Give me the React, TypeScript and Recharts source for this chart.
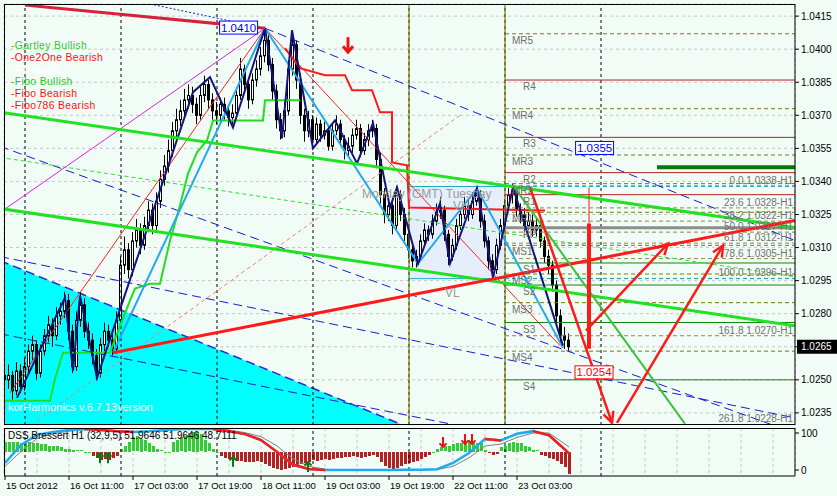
import React from 'react';
import {
  ComposedChart, Bar, Line, Area, Scatter, XAxis, YAxis, CartesianGrid,
  ReferenceLine, ReferenceArea, ReferenceDot, Cell,
} from 'recharts';

const FONT = '"Liberation Sans", Arial, sans-serif';
const BG = '#f2fcf6';
const X_DOMAIN: [number, number] = [-0.25, 197.5];
const PRICE_DOMAIN: [number, number] = [1.02295, 1.04205];
const DSS_DOMAIN: [number, number] = [-16.2, 113.5];

// H1 bars, first bar 15 Oct 2012 19:00
const firstOpen = 1.0252;
const closes = [
  1.0250, 1.0252, 1.0245, 1.0254, 1.0247, 1.0256, 1.0263, 1.0266, 1.0253, 1.0263,
  1.0270, 1.0275, 1.0270, 1.0279, 1.0281, 1.0286, 1.0272, 1.0256, 1.0277, 1.0284,
  1.0272, 1.0268, 1.0261, 1.0253, 1.0266, 1.0272, 1.0268, 1.0264, 1.0277, 1.0302,
  1.0309, 1.0300, 1.0313, 1.0318, 1.0311, 1.0320, 1.0327, 1.0320, 1.0331, 1.0341,
  1.0347, 1.0354, 1.0363, 1.0368, 1.0372, 1.0377, 1.0379, 1.0375, 1.0370, 1.0379,
  1.0384, 1.0377, 1.0372, 1.0370, 1.0375, 1.0372, 1.0369, 1.0371, 1.0379, 1.0391,
  1.0384, 1.0377, 1.0386, 1.0391, 1.0397, 1.0404, 1.0393, 1.0381, 1.0368, 1.0363,
  1.0372, 1.0391, 1.0402, 1.0386, 1.0370, 1.0363, 1.0368, 1.0359, 1.0366, 1.0361,
  1.0363, 1.0356, 1.0363, 1.0366, 1.0359, 1.0354, 1.0356, 1.0361, 1.0364, 1.0354,
  1.0359, 1.0363, 1.0364, 1.0350, 1.0334, 1.0325, 1.0329, 1.0320, 1.0334, 1.0325,
  1.0316, 1.0309, 1.0304, 1.0306, 1.0313, 1.0318, 1.0316, 1.0322, 1.0326, 1.0327,
  1.0316, 1.0306, 1.0311, 1.0320, 1.0325, 1.0329, 1.0325, 1.0331, 1.0334, 1.0322,
  1.0313, 1.0304, 1.0300, 1.0311, 1.0320, 1.0329, 1.0334, 1.0336, 1.0327, 1.0325,
  1.0320, 1.0322, 1.0318, 1.0320, 1.0313, 1.0306, 1.0302, 1.0293, 1.0279, 1.0270,
  1.0268, 1.0265,
];
const highs = [
  1.0256, 1.0257, 1.0254, 1.0258, 1.0257, 1.0260, 1.0266, 1.0270, 1.0268, 1.0266,
  1.0273, 1.0279, 1.0278, 1.0283, 1.0285, 1.0290, 1.0289, 1.0275, 1.0281, 1.0290,
  1.0287, 1.0276, 1.0271, 1.0264, 1.0269, 1.0276, 1.0275, 1.0271, 1.0281, 1.0306,
  1.0315, 1.0312, 1.0317, 1.0323, 1.0321, 1.0324, 1.0331, 1.0330, 1.0335, 1.0345,
  1.0352, 1.0359, 1.0367, 1.0373, 1.0377, 1.0382, 1.0384, 1.0383, 1.0378, 1.0383,
  1.0388, 1.0386, 1.0380, 1.0376, 1.0378, 1.0378, 1.0375, 1.0375, 1.0382, 1.0396,
  1.0393, 1.0386, 1.0389, 1.0395, 1.0401, 1.0410, 1.0407, 1.0396, 1.0384, 1.0371,
  1.0376, 1.0395, 1.0408, 1.0404, 1.0389, 1.0373, 1.0372, 1.0370, 1.0369, 1.0368,
  1.0367, 1.0365, 1.0366, 1.0370, 1.0368, 1.0361, 1.0360, 1.0364, 1.0368, 1.0366,
  1.0362, 1.0366, 1.0368, 1.0366, 1.0353, 1.0337, 1.0333, 1.0331, 1.0338, 1.0336,
  1.0328, 1.0318, 1.0311, 1.0309, 1.0316, 1.0321, 1.0320, 1.0325, 1.0330, 1.0333,
  1.0329, 1.0318, 1.0314, 1.0323, 1.0328, 1.0333, 1.0332, 1.0335, 1.0338, 1.0336,
  1.0325, 1.0315, 1.0307, 1.0314, 1.0323, 1.0332, 1.0337, 1.0339, 1.0338, 1.0330,
  1.0328, 1.0326, 1.0325, 1.0323, 1.0322, 1.0315, 1.0309, 1.0304, 1.0295, 1.0282,
  1.0274, 1.0271,
];
const lows = [
  1.0244, 1.0246, 1.0241, 1.0243, 1.0244, 1.0245, 1.0253, 1.0259, 1.0250, 1.0251,
  1.0261, 1.0267, 1.0265, 1.0268, 1.0275, 1.0278, 1.0268, 1.0253, 1.0254, 1.0274,
  1.0269, 1.0264, 1.0257, 1.0250, 1.0251, 1.0263, 1.0265, 1.0261, 1.0262, 1.0275,
  1.0298, 1.0296, 1.0297, 1.0310, 1.0307, 1.0309, 1.0317, 1.0316, 1.0318, 1.0328,
  1.0338, 1.0344, 1.0351, 1.0360, 1.0365, 1.0369, 1.0373, 1.0371, 1.0366, 1.0368,
  1.0376, 1.0373, 1.0368, 1.0366, 1.0367, 1.0368, 1.0365, 1.0366, 1.0369, 1.0377,
  1.0380, 1.0373, 1.0375, 1.0383, 1.0388, 1.0394, 1.0390, 1.0377, 1.0364, 1.0359,
  1.0360, 1.0370, 1.0388, 1.0382, 1.0366, 1.0358, 1.0360, 1.0356, 1.0357, 1.0358,
  1.0359, 1.0354, 1.0354, 1.0361, 1.0356, 1.0350, 1.0351, 1.0353, 1.0359, 1.0351,
  1.0352, 1.0356, 1.0360, 1.0346, 1.0330, 1.0321, 1.0322, 1.0316, 1.0318, 1.0322,
  1.0313, 1.0305, 1.0301, 1.0301, 1.0304, 1.0311, 1.0313, 1.0314, 1.0320, 1.0323,
  1.0313, 1.0302, 1.0304, 1.0309, 1.0318, 1.0323, 1.0322, 1.0323, 1.0329, 1.0319,
  1.0310, 1.0300, 1.0296, 1.0298, 1.0309, 1.0318, 1.0327, 1.0330, 1.0324, 1.0321,
  1.0317, 1.0318, 1.0315, 1.0315, 1.0310, 1.0303, 1.0298, 1.0290, 1.0276, 1.0267,
  1.0264, 1.0263,
];

const priceTicks = [1.0235, 1.025, 1.0265, 1.028, 1.0295, 1.031, 1.0325, 1.034, 1.0355, 1.037, 1.0385, 1.04, 1.0415];
const currentPrice = 1.0265;
const gridBars = [0, 8, 16, 24, 32, 40, 48, 56, 64, 72, 80, 88, 96, 104, 112, 120, 128, 136, 144, 152, 160, 168, 176, 184, 192];
const dateBars = [0, 16, 32, 48, 64, 80, 96, 112, 128];
const dateLabels = ['15 Oct 2012', '16 Oct 11:00', '17 Oct 03:00', '17 Oct 19:00', '18 Oct 11:00', '19 Oct 03:00', '19 Oct 19:00', '22 Oct 11:00', '23 Oct 03:00'];
const daySeparators = [5, 29, 53, 77, 101, 125, 149];
const sessionStarts = [101, 125];

// pivots (drawn from Tuesday start)
const pivotNames = ['MR5', 'R4', 'MR4', 'R3', 'MR3', 'R2', 'MR2', 'R1', 'MR1', 'PP', 'MS1', 'S1', 'MS2', 'S2', 'MS3', 'S3', 'MS4', 'S4'];
const pivotLevels = [1.0407, 1.0386, 1.0373, 1.036, 1.0352, 1.0344, 1.0339, 1.0334, 1.0326, 1.0319, 1.0311, 1.0303, 1.0298, 1.0293, 1.0285, 1.0276, 1.0263, 1.025];
const fibPct = ['0.0', '23.6', '38.2', '50.0', '61.8', '78.6', '100.0', '161.8', '261.8'];
const fibLevels = [1.0338, 1.0328, 1.0322, 1.0317, 1.0312, 1.0305, 1.0296, 1.027, 1.0228];

const legendNames = ['-Gartley Bullish', '-One2One Bearish', '-FTriangle', '-Fibo Bullish', '-Fibo Bearish', '-Fibo786 Bearish'];
const legendColors = ['#2ec82e', '#ff1010', '#ffffff', '#2ec82e', '#ff1010', '#ff1010'];

// drawn objects: [bar, price]
const upperChannel = [[-1.25, 1.03714], [197.5, 1.03191]];
const lowerChannel = [[-1.25, 1.03277], [197.5, 1.02745]];
const redTrend = [[27, 1.02623], [197.5, 1.03223]];
const topRed = [[5, 1.042], [65, 1.04095]];
const magentaLine = [[-1.25, 1.03259], [65, 1.04095]];
const thinRedUp = [[1.25, 1.02441], [65, 1.04095]];
const thinRedDown = [[65, 1.04095], [138.75, 1.02655]];
const limeDashed = [[-1.25, 1.03509], [197.5, 1.02968]];
const blueDash1 = [[65, 1.04095], [197.5, 1.03132]];
const blueDash2 = [[-1.25, 1.03559], [192.5, 1.02291]];
const blueDash3 = [[-1.25, 1.03059], [197.5, 1.02327]];
const blueDash4 = [[-1.25, 1.02709], [113.75, 1.02291]];
const blueDotTop = [[36.25, 1.04205], [65, 1.04095]];
const salmonDash = [[8, 1.02314], [113.75, 1.037]];
const gartleyGreen = [[127, 1.03382], [170, 1.023]];
const arrowA = [[131.25, 1.03373], [151.75, 1.02305]];
const arrowB = [[153, 1.02305], [179.5, 1.03109]];
const arrowC = [[145.25, 1.02723], [165.75, 1.03118]];
const redPostThick = [[146, 1.03209], [146, 1.02641]];
const redPostThin = [[146, 1.03373], [146, 1.03209]];
const darkGreenBar = [[163, 1.03464], [197.5, 1.03464]];
const cyanWedge = [[-1.25, 1.03041], [100, 1.02291]];
const sessionBox = [[101, 1.02959], [125, 1.03377]];

const navyZigzag = [
  [3, 1.02418], [15, 1.02873], [17, 1.02541], [18.75, 1.02882], [23, 1.02509],
  [47, 1.03805], [51.25, 1.03873], [57, 1.03645], [65, 1.04095], [69.25, 1.03595],
  [71.75, 1.04086], [77, 1.0355], [82.5, 1.03677], [88, 1.03482], [92, 1.03664],
  [96.25, 1.03282], [98, 1.03373], [103.25, 1.03027], [108.75, 1.033], [111.25, 1.03027],
  [118, 1.03368], [122, 1.02964], [127, 1.03373], [139.5, 1.02655],
];
const cyanZigzag = [[27, 1.02623], [65, 1.04095], [103.25, 1.03027], [118, 1.03368], [139.5, 1.02645]];
const greenTrail = [
  [0, 1.02405], [11.25, 1.02405], [12.5, 1.02505], [14.5, 1.02623], [26.25, 1.02623],
  [28.75, 1.02745], [31.25, 1.02859], [32.5, 1.02914], [36.25, 1.02936], [38.75, 1.02936],
  [41.25, 1.03132], [43.75, 1.03291], [45.75, 1.03436], [48, 1.03532], [50.5, 1.03586],
  [52, 1.03677], [64.5, 1.03677], [65, 1.03768], [73.75, 1.03768],
];
const redTrail = [
  [70, 1.04005], [73.75, 1.03914], [80, 1.03882], [85, 1.03882], [86.75, 1.03814],
  [91.75, 1.03814], [93.75, 1.03714], [96.75, 1.03714], [96.75, 1.03486], [100.5, 1.03473],
  [101, 1.03282], [135, 1.03268],
];
const priceTags = [
  { i: 58.4, p: 1.04098, text: '1.0410', color: '#0000ff' },
  { i: 147.4, p: 1.03552, text: '1.0355', color: '#0000ff' },
  { i: 147.25, p: 1.02534, text: '1.0254', color: '#ff0000' },
];
const fractalDown = [[85.75, 1.04018]];

// DSS Bressert
const hist = [
  27, 27, 27, 27, 24, 27, 27, 24, 22, 19, 19, 16, 14, 14, 11, 8, 8, 5, 3, 3,
  0, 0, -11, -16, -22, -19, -22, -16, -11, 8, 16, 27, 38, 41, 35, 30, 24, 16, 8, 3,
  0, 0, 27, 32, 38, 43, 49, 54, 54, 46, 32, 22, 8, 0, -11, -16, -19, -22, -24, -24,
  -27, -27, -27, -24, -27, -32, -38, -43, -46, -49, -46, -43, -41, -38, -32, -30, -27, -22, -24, -22,
  -19, -22, -19, -16, -16, -14, -14, -11, -14, -16, -14, -11, -8, -14, -27, -38, -43, -46, -43, -38,
  -32, -30, -27, -24, -19, -14, -8, 0, 8, 11, 14, 16, 19, 22, 22, 24, 27, 27, 24, 22,
  5, -3, -8, -5, 11, 16, 22, 27, 24, 22, 16, 11, 5, 3, -8, -11, -16, -19, -24, -32,
  -41, -59,
];
const dssBars = [0, 4, 8, 12, 16, 20, 24, 28, 32, 36, 40, 44, 48, 52, 56, 60, 64, 68, 72, 76, 80, 84, 88, 92, 96, 100, 104, 108, 112, 116, 120, 124, 128, 132, 136, 140, 141];
const dssMain = [19, 68, 95, 103, 108, 111, 108, 105, 103, 105, 108, 111, 111, 111, 105, 97, 81, 49, 14, 3, 0, 0, 0, 0, 0, 1, 1, 2, 19, 46, 84, 80, 98, 105, 94, 55, 45];
const dssSignal = [10, 50, 85, 98, 105, 109, 109, 106, 104, 104, 106, 109, 110, 111, 108, 101, 90, 65, 30, 10, 2, 0, 0, 0, 0, 0, 1, 1, 10, 33, 65, 70, 88, 100, 100, 70, 62];
const upArrowBars = [23.75, 25.75, 57, 75.75];
const upArrowValues = [32, 32, 22, 8];
const downArrowBars = [109.5, 115, 116.75];
const downArrowValues = [76, 84, 84];

const candles = closes.map((c, i) => ({ i, o: i === 0 ? firstOpen : closes[i - 1], h: highs[i], l: lows[i], c }));
const histRows = hist.map((h, i) => ({ i, h }));
const dssRows = dssBars.map((i, k) => {
  const falling = (k < dssMain.length - 1 && dssMain[k + 1] < dssMain[k]) || (k > 0 && dssMain[k] < dssMain[k - 1]);
  return { i, main: dssMain[k], sig: dssSignal[k], down: falling ? dssMain[k] : null };
});
const upRows = upArrowBars.map((i, k) => ({ i, v: upArrowValues[k] }));
const downRows = downArrowBars.map((i, k) => ({ i, v: downArrowValues[k] }));

const rows = (pts: number[][]) => pts.map(([i, p]) => ({ i, p }));
const seg = (pts: number[][]) => pts.map(([x, y]) => ({ x, y }));

const Candle = (props: any) => {
  const { x, y, width, height, payload } = props;
  const { o, h, l, c } = payload;
  const hgt = Math.abs(height);
  const k = hgt / Math.max(h - l, 0.000001);
  const cx = Math.round(x + width / 2) - 0.5;
  const yO = y + (h - o) * k;
  const yC = y + (h - c) * k;
  const top = Math.min(yO, yC);
  const bh = Math.max(Math.abs(yO - yC), 1);
  const bull = c > o;
  return (
    <g>
      <line x1={cx} x2={cx} y1={y} y2={y + hgt} stroke="#000" strokeWidth={1} />
      <rect x={cx - 1} y={top} width={2} height={bh} fill={bull ? '#fff' : '#000'} stroke="#000" strokeWidth={1} />
    </g>
  );
};

const HistBar = (props: any) => {
  const { x, y, width, height, fill } = props;
  const left = Math.round(x + width / 2) - 1;
  const top = Math.round(Math.min(y, y + height));
  const h = Math.max(Math.round(Math.abs(height)), 1);
  return <rect x={left} y={top} width={3} height={h} fill={fill} shapeRendering="crispEdges" />;
};

const arrowShape = (color: string, width: number) => (p: any) => {
  const { x1, y1, x2, y2 } = p;
  const a = Math.atan2(y2 - y1, x2 - x1);
  const len = 12;
  const ax = x2 - len * Math.cos(a - 0.45);
  const ay = y2 - len * Math.sin(a - 0.45);
  const bx = x2 - len * Math.cos(a + 0.45);
  const by = y2 - len * Math.sin(a + 0.45);
  return (
    <g>
      <line x1={x1} y1={y1} x2={x2} y2={y2} stroke={color} strokeWidth={width} />
      <polyline points={`${ax},${ay} ${x2},${y2} ${bx},${by}`} fill="none" stroke={color} strokeWidth={width} />
    </g>
  );
};

const PriceTick = (props: any) => {
  const { x, y, payload } = props;
  const v = payload.value as number;
  const label = v.toFixed(4);
  const isCur = Math.abs(v - currentPrice) < 1e-7;
  return (
    <g>
      {isCur && <rect x={x - 4} y={y - 7} width={41} height={14} fill="#000" />}
      <text x={x} y={y} dy="0.35em" fill={isCur ? '#fff' : '#000'} fontSize={10} fontFamily={FONT}>{label}</text>
    </g>
  );
};

const DateTick = (props: any) => {
  const { x, y, payload } = props;
  const k = dateBars.indexOf(payload.value);
  if (k < 0) return <g />;
  return (
    <g>
      <line x1={x} x2={x} y1={y - 6} y2={y - 2} stroke="#000" />
      <text x={x + 1} y={y} dy="0.75em" fill="#000" fontSize={9.5} fontFamily={FONT}>{dateLabels[k]}</text>
    </g>
  );
};

const ArrowMark = (color: string, up: boolean) => (p: any) => {
  const { cx, cy } = p;
  const d = up ? -1 : 1;
  return (
    <g>
      <line x1={cx} x2={cx} y1={cy - 5 * d} y2={cy + 5 * d} stroke={color} strokeWidth={2} />
      <polyline points={`${cx - 3.5},${cy + 1.5 * d} ${cx},${cy + 5 * d} ${cx + 3.5},${cy + 1.5 * d}`} fill="none" stroke={color} strokeWidth={2} />
    </g>
  );
};

const pivotStyle = (name: string) => {
  if (name === 'PP') return { stroke: '#8c8c8c', strokeWidth: 3 };
  if (name.startsWith('M')) return { stroke: '#7a7a10', strokeWidth: 1, strokeDasharray: '4 3' };
  if (name.startsWith('R')) return { stroke: '#b22222', strokeWidth: 1 };
  return { stroke: '#0f870f', strokeWidth: 1 };
};

export default function App() {
  return (
    <div style={{ position: 'absolute', left: 0, top: 0, width: 837, height: 496, background: BG, overflow: 'hidden', fontFamily: FONT }}>
      <div style={{ position: 'absolute', left: 0, top: 0 }}>
        <ComposedChart width={837} height={425} data={candles} margin={{ top: 4, right: 0, bottom: 0, left: 4 }}>
          <CartesianGrid stroke="#c6c6c6" strokeDasharray="3 3" />
          <XAxis type="number" dataKey="i" domain={X_DOMAIN} allowDataOverflow ticks={gridBars} interval={0} height={0} tick={false} tickLine={false} axisLine={false} />
          <YAxis orientation="right" width={42} domain={PRICE_DOMAIN} allowDataOverflow ticks={priceTicks} interval={0}
            tick={<PriceTick />} tickSize={4} tickLine={{ stroke: '#000' }} axisLine={{ stroke: '#000' }} />

          <Area data={rows(cyanWedge)} dataKey="p" type="linear" baseValue={PRICE_DOMAIN[0]} fill="#00ffff" fillOpacity={1}
            stroke="#2a2ad0" strokeWidth={1.5} strokeDasharray="9 5" dot={false} isAnimationActive={false} />
          <ReferenceArea x1={sessionBox[0][0]} x2={sessionBox[1][0]} y1={sessionBox[0][1]} y2={sessionBox[1][1]}
            fill="#e6eefc" fillOpacity={1} stroke="none" ifOverflow="hidden" />

          {daySeparators.map((d) => (
            <ReferenceLine key={`ds${d}`} x={d} stroke="#000" strokeDasharray="3 3" ifOverflow="hidden" />
          ))}
          {sessionStarts.map((d) => (
            <ReferenceLine key={`ss${d}`} x={d} stroke="#7a7a10" strokeWidth={1.2} ifOverflow="hidden" />
          ))}

          {pivotNames.map((n, k) => (
            <ReferenceLine key={`pv${n}`} segment={seg([[125, pivotLevels[k]], [197.5, pivotLevels[k]]])} ifOverflow="hidden" {...pivotStyle(n)} />
          ))}
          {fibLevels.map((lv, k) => (
            <ReferenceLine key={`fb${k}`} segment={seg([[125, lv], [197.5, lv]])} ifOverflow="visible" stroke="#8a8a50" strokeDasharray="4 3" />
          ))}
          <ReferenceLine segment={seg([[125, sessionBox[1][1]], [197.5, sessionBox[1][1]]])} stroke="#20a8c8" strokeDasharray="4 3" ifOverflow="hidden" />
          <ReferenceLine segment={seg([[125, sessionBox[0][1]], [197.5, sessionBox[0][1]]])} stroke="#20a8c8" strokeDasharray="4 3" ifOverflow="hidden" />
          <ReferenceLine segment={seg([[101, sessionBox[1][1]], [125, sessionBox[1][1]]])} stroke="#20a8c8" ifOverflow="hidden" />
          <ReferenceLine segment={seg([[101, sessionBox[0][1]], [125, sessionBox[0][1]]])} stroke="#20a8c8" ifOverflow="hidden" />
          <ReferenceLine segment={seg(darkGreenBar)} stroke="#0b760b" strokeWidth={4} ifOverflow="hidden" />

          <ReferenceLine segment={seg(blueDash1)} stroke="#1a1ad0" strokeDasharray="9 5" ifOverflow="hidden" />
          <ReferenceLine segment={seg(blueDash2)} stroke="#1a1ad0" strokeDasharray="9 5" ifOverflow="hidden" />
          <ReferenceLine segment={seg(blueDash3)} stroke="#1a1ad0" strokeDasharray="9 5" ifOverflow="hidden" />
          <ReferenceLine segment={seg(blueDash4)} stroke="#1a1ad0" strokeDasharray="9 5" ifOverflow="hidden" />
          <ReferenceLine segment={seg(blueDotTop)} stroke="#1a1ad0" strokeDasharray="2 2" ifOverflow="hidden" />
          <ReferenceLine segment={seg(salmonDash)} stroke="#f08070" strokeDasharray="4 3" ifOverflow="hidden" />
          <ReferenceLine segment={seg(limeDashed)} stroke="#30e030" strokeDasharray="4 3" ifOverflow="hidden" />
          <ReferenceLine segment={seg(magentaLine)} stroke="#e020e0" ifOverflow="hidden" />
          <ReferenceLine segment={seg(thinRedUp)} stroke="#ff2020" ifOverflow="hidden" />
          <ReferenceLine segment={seg(thinRedDown)} stroke="#ff2020" ifOverflow="hidden" />

          <Bar dataKey={(d: any) => [d.l, d.h]} barSize={3} shape={(p: any) => <Candle {...p} />} isAnimationActive={false} />

          <Line data={rows(greenTrail)} dataKey="p" type="linear" stroke="#22dd22" strokeWidth={2} dot={false} isAnimationActive={false} />
          <Line data={rows(redTrail)} dataKey="p" type="linear" stroke="#ff1a1a" strokeWidth={2} dot={false} isAnimationActive={false} />
          <Line data={rows(cyanZigzag)} dataKey="p" type="linear" stroke="#22aaee" strokeWidth={2} dot={false} isAnimationActive={false} />
          <Line data={rows(navyZigzag)} dataKey="p" type="linear" stroke="#14147a" strokeWidth={2} dot={false} isAnimationActive={false} />

          <ReferenceLine segment={seg(upperChannel)} stroke="#22e022" strokeWidth={3} ifOverflow="hidden" />
          <ReferenceLine segment={seg(lowerChannel)} stroke="#22e022" strokeWidth={3} ifOverflow="hidden" />
          <ReferenceLine segment={seg(redTrend)} stroke="#ff1a1a" strokeWidth={3} ifOverflow="hidden" />
          <ReferenceLine segment={seg(topRed)} stroke="#d8203c" strokeWidth={3} ifOverflow="hidden" />
          <ReferenceLine segment={seg(gartleyGreen)} stroke="#3cc23c" strokeWidth={2} ifOverflow="hidden" />
          <ReferenceLine segment={seg(redPostThin)} stroke="#ff1a1a" strokeWidth={1} ifOverflow="hidden" />
          <ReferenceLine segment={seg(redPostThick)} stroke="#ff1a1a" strokeWidth={4} ifOverflow="hidden" />
          <ReferenceLine segment={seg(arrowA)} ifOverflow="visible" shape={arrowShape('#ff1a1a', 2.5)} />
          <ReferenceLine segment={seg(arrowB)} ifOverflow="visible" shape={arrowShape('#ff1a1a', 2.5)} />
          <ReferenceLine segment={seg(arrowC)} ifOverflow="visible" shape={arrowShape('#ff1a1a', 2.5)} />

          {fractalDown.map(([i, p]) => (
            <ReferenceDot key={`fr${i}`} x={i} y={p} r={1} ifOverflow="visible" shape={(q: any) => (
              <g>
                <line x1={q.cx} x2={q.cx} y1={q.cy - 8} y2={q.cy + 6} stroke="#ee1111" strokeWidth={3} />
                <polyline points={`${q.cx - 5},${q.cy + 1} ${q.cx},${q.cy + 7} ${q.cx + 5},${q.cy + 1}`} fill="none" stroke="#ee1111" strokeWidth={3} />
              </g>
            )} />
          ))}

          {pivotNames.map((n, k) => (
            <ReferenceDot key={`pl${n}`} x={n.startsWith('M') ? 126.75 : 129.5} y={pivotLevels[k]} r={1} ifOverflow="visible" shape={(q: any) => (
              <text x={q.cx} y={q.cy + 10} fill="#6e6e6e" fontSize={10} fontFamily={FONT}>{n}</text>
            )} />
          ))}
          {fibLevels.map((lv, k) => (
            <ReferenceDot key={`fl${k}`} x={197} y={lv} r={1} ifOverflow="visible" shape={(q: any) => (
              <text x={q.cx} y={Math.min(q.cy - 2, 422)} textAnchor="end" fill="#707070" fontSize={10} fontFamily={FONT}>{`${fibPct[k]} ${lv.toFixed(4)}-H1`}</text>
            )} />
          ))}
          {priceTags.map((t) => (
            <ReferenceDot key={`pt${t.text}`} x={t.i} y={t.p} r={1} ifOverflow="visible" shape={(q: any) => (
              <g>
                <rect x={q.cx - 19} y={q.cy - 6.5} width={38} height={13} fill="#fff" stroke={t.color} strokeWidth={1} />
                <text x={q.cx} y={q.cy} dy="0.36em" textAnchor="middle" fill={t.color} fontSize={11.5} fontFamily={FONT}>{t.text}</text>
              </g>
            )} />
          ))}
          <ReferenceDot x={89.25} y={1.03327} r={1} ifOverflow="visible" shape={(q: any) => (
            <text x={q.cx} y={q.cy} fill="#9a9a9a" fontSize={12} fontFamily={FONT}>Monday (GMT) Tuesday</text>
          )} />
          <ReferenceDot x={112} y={1.0327} r={1} ifOverflow="visible" shape={(q: any) => (
            <text x={q.cx} y={q.cy} fill="#9a9a9a" fontSize={12} fontFamily={FONT}>VH</text>
          )} />
          <ReferenceDot x={110} y={1.02877} r={1} ifOverflow="visible" shape={(q: any) => (
            <text x={q.cx} y={q.cy} fill="#9a9a9a" fontSize={12} fontFamily={FONT}>VL</text>
          )} />
        </ComposedChart>
      </div>

      <div style={{ position: 'absolute', left: 0, top: 425 }}>
        <ComposedChart width={837} height={71} data={histRows} margin={{ top: 3, right: 0, bottom: 0, left: 4 }}>
          <CartesianGrid stroke="#c6c6c6" strokeDasharray="3 3" horizontal={false} />
          <XAxis type="number" dataKey="i" domain={X_DOMAIN} allowDataOverflow ticks={gridBars} interval={0} height={20}
            tick={<DateTick />} tickSize={4} tickLine={false} axisLine={{ stroke: '#000' }} />
          <YAxis orientation="right" width={42} domain={DSS_DOMAIN} allowDataOverflow ticks={[0, 100]} interval={0}
            tick={{ fontSize: 10, fill: '#000', fontFamily: FONT }} tickSize={4} tickLine={{ stroke: '#000' }} axisLine={{ stroke: '#000' }} />
          {daySeparators.map((d) => (
            <ReferenceLine key={`dd${d}`} x={d} stroke="#000" strokeDasharray="3 3" ifOverflow="hidden" />
          ))}
          <Bar dataKey={(d: any) => (d.h >= 0 ? [50, 50 + d.h] : [50 + d.h, 50])} barSize={3} shape={(p: any) => <HistBar {...p} />} isAnimationActive={false}>
            {histRows.map((r) => (
              <Cell key={`h${r.i}`} fill={r.h >= 0 ? '#32cd32' : '#b22222'} />
            ))}
          </Bar>
          <Line data={dssRows} dataKey="sig" type="linear" stroke="#808080" strokeWidth={1} dot={false} isAnimationActive={false} />
          <Line data={dssRows} dataKey="main" type="linear" stroke="#1eaaf0" strokeWidth={2.5} dot={false} isAnimationActive={false} />
          <Line data={dssRows} dataKey="down" type="linear" stroke="#ff1a1a" strokeWidth={2.5} dot={false} connectNulls={false} isAnimationActive={false} />
          <Scatter data={upRows} dataKey="v" shape={ArrowMark('#0a7a0a', true)} isAnimationActive={false} />
          <Scatter data={downRows} dataKey="v" shape={ArrowMark('#ee1111', false)} isAnimationActive={false} />
        </ComposedChart>
      </div>

      <div style={{ position: 'absolute', left: 4, top: 4, width: 791, height: 421, borderLeft: '1px solid #000', borderTop: '1px solid #000', borderBottom: '1px solid #000', boxSizing: 'border-box', pointerEvents: 'none' }} />
      <div style={{ position: 'absolute', left: 4, top: 428, width: 791, height: 48, borderLeft: '1px solid #000', borderTop: '1px solid #000', boxSizing: 'border-box', pointerEvents: 'none' }} />

      <svg width={837} height={496} style={{ position: 'absolute', left: 0, top: 0, pointerEvents: 'none' }}>
        <g fontFamily={FONT} fontSize={10.4} letterSpacing={0.35}>
          {legendNames.map((n, k) => (
            <text key={n} x={11} y={49 + 12 * k} fill={legendColors[k]}>{n}</text>
          ))}
        </g>
        <text x={8} y={411} fontFamily={FONT} fontSize={11} fill="#ffffff">korHarmonics v.6.7.13version</text>
        <text x={8} y={439} fontFamily={FONT} fontSize={10} fill="#000">DSS Bressert H1 (32,9,5) 51.9646 51.9646 48.7111</text>
      </svg>
    </div>
  );
}
